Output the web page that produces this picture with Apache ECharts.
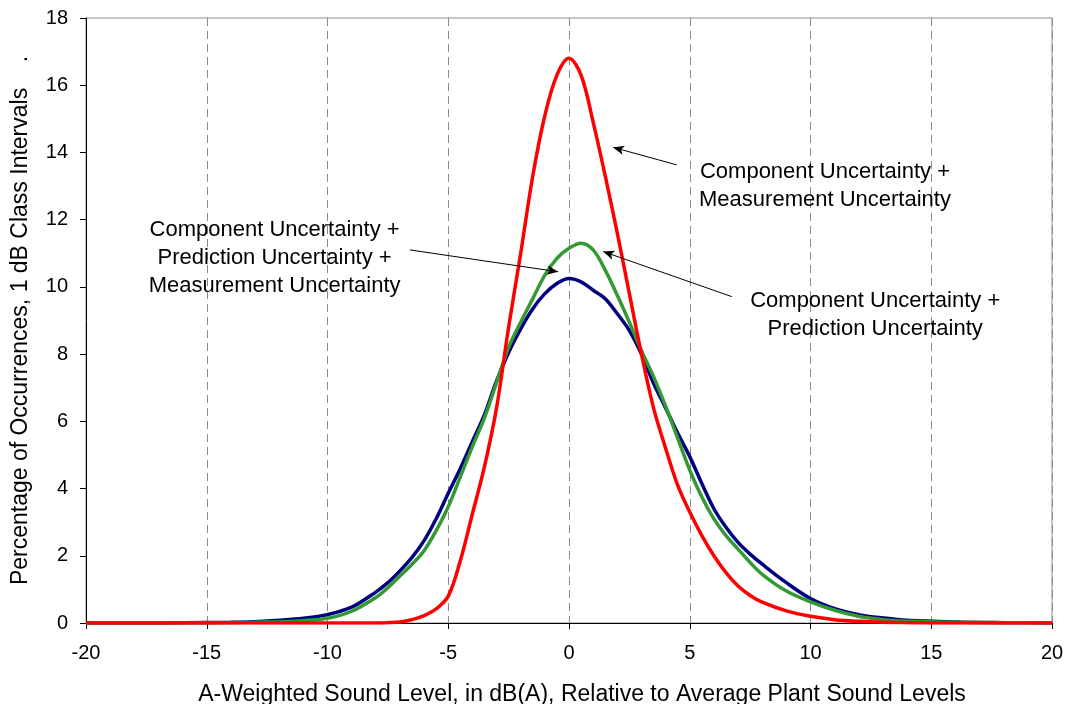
<!DOCTYPE html>
<html>
<head>
<meta charset="utf-8">
<script src="https://cdn.jsdelivr.net/npm/echarts@6/dist/echarts.min.js"></script>
<style>html,body{margin:0;padding:0;background:#fff}#main{width:1068px;height:704px}</style>
</head>
<body>
<div id="main"></div>
<script>
var xs = [-20,-18,-16,-14,-13,-12,-11,-10,-9,-8,-7.5,-7,-6.5,-6,-5.5,-5,-4.5,-4,-3.5,-3,-2.5,-2,-1.5,-1,-0.5,0,0.5,1,1.5,2,2.5,3,3.5,4,4.5,5,5.5,6,6.5,7,7.5,8,9,10,11,12,13,14,16,18,20];
var compMeas = [0,0,0,0,0,0,0,0,0,0,0.01,0.03,0.1,0.22,0.42,0.8,1.85,3.25,4.65,6.4,8.8,11.0,13.3,15.1,16.3,16.8,16.3,14.9,13.3,11.6,9.8,8.0,6.4,5.2,4.1,3.3,2.6,2.0,1.5,1.1,0.82,0.62,0.36,0.2,0.1,0.05,0.02,0.01,0,0,0];
var compPredMeas = [0,0,0.01,0.02,0.04,0.08,0.14,0.25,0.47,0.92,1.2,1.55,1.95,2.45,3.1,3.86,4.6,5.4,6.2,7.2,8.05,8.75,9.35,9.8,10.1,10.25,10.15,9.9,9.65,9.2,8.7,8.0,7.13,6.4,5.65,4.95,4.15,3.4,2.85,2.4,2.05,1.75,1.2,0.73,0.43,0.25,0.15,0.08,0.03,0.01,0];
var compPred = [0,0,0,0.01,0.02,0.04,0.07,0.14,0.35,0.76,1.05,1.4,1.75,2.15,2.75,3.46,4.35,5.25,6.1,7.15,8.2,8.95,9.65,10.35,10.85,11.15,11.3,11.1,10.5,9.75,8.95,8.1,7.33,6.45,5.5,4.55,3.75,3.1,2.6,2.2,1.8,1.45,0.95,0.63,0.38,0.2,0.1,0.05,0.02,0.01,0];
var xTicks = [-20,-15,-10,-5,0,5,10,15,20];
var yTicks = [0,2,4,6,8,10,12,14,16,18];
var labelTexts = [
  'Component Uncertainty +\nMeasurement Uncertainty',
  'Component Uncertainty +\nPrediction Uncertainty +\nMeasurement Uncertainty',
  'Component Uncertainty +\nPrediction Uncertainty'
];
var labelPos = [[10.6,13.0],[-12.19,10.85],[12.68,9.16]];
var arrows = [
  [[4.46,13.63],[1.83,14.15]],
  [[-6.59,11.1],[-0.45,10.45]],
  [[6.74,9.71],[1.42,11.05]]
];

function pairs(ys){ return xs.map(function(x,i){ return [x, ys[i]]; }); }

var FONT = '"Liberation Sans", Arial, sans-serif';
var chart = echarts.init(document.getElementById('main'), null, {renderer:'canvas'});
chart.setOption({
  animation:false,
  backgroundColor:'#fff',
  grid:{left:86,right:16,top:18,bottom:81,show:true,borderColor:'#8c8c8c',borderWidth:1,outerBoundsMode:'none',containLabel:false},
  xAxis:{
    type:'value',min:-20,max:20,interval:5,
    name:'A-Weighted Sound Level, in dB(A), Relative to Average Plant Sound Levels',
    nameLocation:'middle',nameGap:60,
    nameTextStyle:{fontFamily:FONT,fontSize:23,color:'#000',padding:[0,0,0,26]},
    axisLine:{onZero:false,lineStyle:{color:'#000',width:1}},
    axisTick:{show:true,length:6,lineStyle:{color:'#000'}},
    axisLabel:{fontFamily:FONT,fontSize:20,color:'#000',margin:20,customValues:xTicks},
    splitLine:{show:true,lineStyle:{color:'#8c8c8c',type:[8,5],width:1}}
  },
  yAxis:{
    type:'value',min:0,max:18,interval:2,
    name:'Percentage of Occurrences, 1 dB Class Intervals    .',
    nameLocation:'middle',nameGap:54,
    nameTextStyle:{fontFamily:FONT,fontSize:23,color:'#000'},
    axisLine:{show:true,onZero:false,lineStyle:{color:'#000',width:1}},
    axisTick:{show:true,length:6,lineStyle:{color:'#000'}},
    axisLabel:{fontFamily:FONT,fontSize:20,color:'#000',margin:18,customValues:yTicks},
    splitLine:{show:false}
  },
  series:[
    {name:'Component + Prediction + Measurement',type:'line',data:pairs(compPredMeas),smooth:0.35,showSymbol:false,
     lineStyle:{color:'#000080',width:3.5},z:2},
    {name:'Component + Prediction',type:'line',data:pairs(compPred),smooth:0.35,showSymbol:false,
     lineStyle:{color:'#339933',width:3.5},z:3},
    {name:'Component + Measurement',type:'line',data:pairs(compMeas),smooth:0.35,showSymbol:false,
     lineStyle:{color:'#ff0000',width:3.5},z:4,
     markLine:{silent:true,symbol:['none','arrow'],symbolSize:[7,11],animation:false,
       label:{show:false},
       lineStyle:{color:'#000',width:1,type:'solid'},
       data:arrows.map(function(a){ return [{coord:a[0]},{coord:a[1]}]; })
     },
     markPoint:{silent:true,symbol:'circle',symbolSize:0,animation:false,
       label:{show:true,position:'inside',color:'#000',fontFamily:FONT,fontSize:22,lineHeight:28,align:'center',verticalAlign:'middle',
         formatter:function(p){ return p.name; }},
       data:labelPos.map(function(p,i){ return {name:labelTexts[i],coord:p}; })
     }
    }
  ]
});
</script>
</body>
</html>
